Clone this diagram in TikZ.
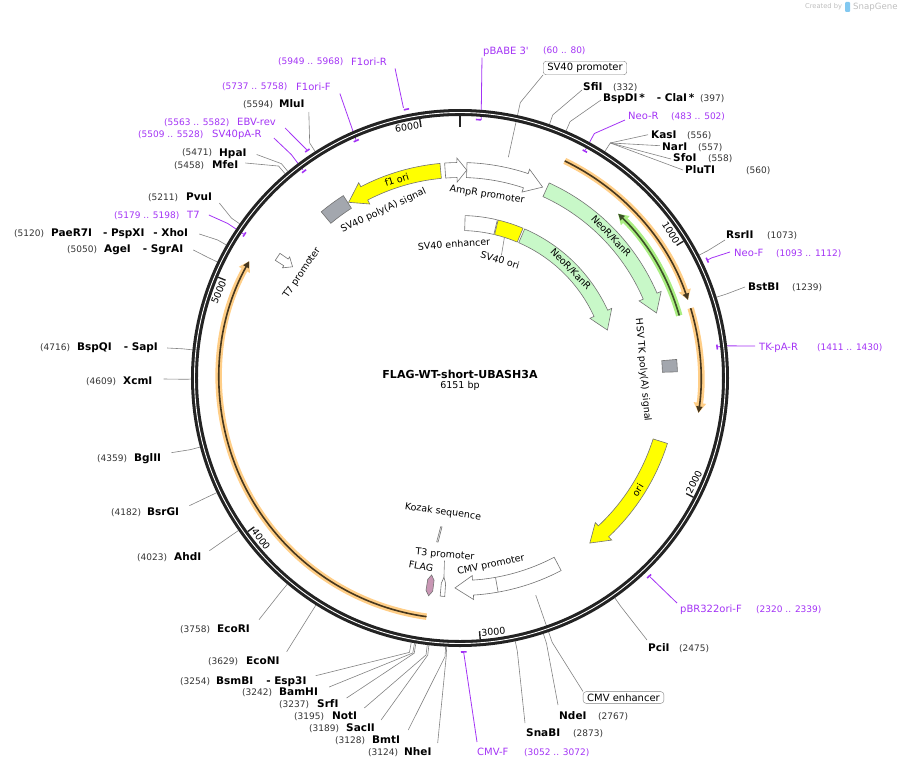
\documentclass[tikz,border=0pt]{standalone}
\usepackage{fontspec}
\setmainfont{DejaVu Sans}
\usetikzlibrary{arrows.meta}

\definecolor{primcol}{RGB}{163,51,245}
\definecolor{neofill}{RGB}{200,248,200}
\definecolor{yelfill}{RGB}{255,255,0}
\definecolor{boxgray}{RGB}{163,167,174}
\definecolor{orfglow}{RGB}{255,206,135}
\definecolor{orfline}{RGB}{70,55,30}
\definecolor{grnglow}{RGB}{170,238,130}
\definecolor{grnline}{RGB}{60,80,40}
\definecolor{flagfill}{RGB}{200,150,180}
\definecolor{leadcol}{RGB}{130,130,130}
\definecolor{ringcol}{RGB}{35,35,35}
\definecolor{credgray}{RGB}{190,190,190}
\definecolor{snapblue}{RGB}{130,200,240}

\tikzset{
  enz/.style={font=\fontsize{10.5}{12}\selectfont\bfseries, inner sep=0pt, text height=7.6pt, text depth=0pt, anchor=west},
  num/.style={font=\fontsize{9}{11}\selectfont, inner sep=0pt, text height=6.6pt, text depth=0pt, anchor=west, text=black!80},
  prim/.style={font=\fontsize{10}{12}\selectfont, inner sep=0pt, text height=7.3pt, text depth=0pt, anchor=west, text=primcol},
  primnum/.style={num, text=primcol},
  leader/.style={draw=leadcol, line width=0.6pt},
  primlead/.style={draw=primcol, line width=0.8pt},
  primmark/.style={draw=primcol, line width=1.6pt},
  featlab/.style={font=\fontsize{9.5}{11}\selectfont, inner sep=1pt},
  ticklab/.style={font=\fontsize{9.5}{11}\selectfont, inner sep=1.5pt},
  boxlab/.style={draw=leadcol, rounded corners=3pt, font=\fontsize{10}{12}\selectfont, inner xsep=4pt, inner ysep=2pt, fill=white},
  feat/.style={draw=black!55, line width=0.6pt},
  neo/.style={feat, fill=neofill},
  yel/.style={feat, fill=yelfill},
  wht/.style={feat, fill=white},
  gbox/.style={feat, fill=boxgray},
  tickline/.style={draw=ringcol, line width=1.4pt}
}

% feature arrow along the map, from position #2 to tip at #3, radius #4
\newcommand{\arcarrow}[4][]{%
  \pgfmathsetmacro\angA{90-(#2)/6151*360}%
  \pgfmathsetmacro\angB{90-(#3)/6151*360}%
  \pgfmathsetmacro\hdlen{min(18/(#4)*180/pi, 0.45*abs(\angA-\angB))}%
  \pgfmathsetmacro\dirsign{ifthenelse(\angA>\angB,1,-1)}%
  \pgfmathsetmacro\angC{\angB+\dirsign*\hdlen}%
  \pgfmathsetmacro\rin{#4-7.5}%
  \pgfmathsetmacro\rout{#4+7.5}%
  \pgfmathsetmacro\rhin{#4-12}%
  \pgfmathsetmacro\rhout{#4+12}%
  \draw[#1] (\angA:\rin) arc[start angle=\angA, end angle=\angC, radius=\rin]
    -- (\angC:\rhin) -- (\angB:#4) -- (\angC:\rhout) -- (\angC:\rout)
    arc[start angle=\angC, end angle=\angA, radius=\rout] -- cycle;
}
% feature box without direction
\newcommand{\arcbox}[4][]{%
  \pgfmathsetmacro\angA{90-(#2)/6151*360}%
  \pgfmathsetmacro\angB{90-(#3)/6151*360}%
  \pgfmathsetmacro\rin{#4-7.5}%
  \pgfmathsetmacro\rout{#4+7.5}%
  \draw[#1] (\angA:\rin) arc[start angle=\angA, end angle=\angB, radius=\rin]
    -- (\angB:\rout) arc[start angle=\angB, end angle=\angA, radius=\rout] -- cycle;
}
% open reading frame
\newcommand{\orf}[5]{%
  \draw[draw=#1, line width=6.5pt, -{Triangle[length=10pt,width=12pt]}] ({pa(#3)}:#5) arc[start angle={pa(#3)}, end angle={pa(#4)}, radius=#5];
  \draw[draw=#2, line width=1.6pt, -{Triangle[length=6.5pt,width=6pt]}] ({pa(#3)}:#5) arc[start angle={pa(#3)}, end angle={pa(#4)}, radius=#5];
}
\newcommand{\primark}[3]{\draw[primmark] ({pa(#1)}:#3) arc[start angle={pa(#1)}, end angle={pa(#2)}, radius=#3];}

\begin{document}
\begin{tikzpicture}[x=1pt, y=1pt, declare function={pa(\p)=90-(\p)/6151*360;}]
\useasboundingbox (-460,378) rectangle (442,-391);

% labels round the map, in pixel positions
\begin{scope}[shift={(-460,378)}]
  \node[num] (mluin) at (243,-104) {(5594)};
  \node[enz] (mlui) at (279,-104) {MluI};
  \node[num] (hpain) at (182,-152.5) {(5471)};
  \node[enz] (hpai) at (219,-152.5) {HpaI};
  \node[num] (mfein) at (174,-165) {(5458)};
  \node[enz] (mfei) at (212,-165) {MfeI};
  \node[num] (pvuin) at (148,-197) {(5211)};
  \node[enz] (pvui) at (186,-197) {PvuI};
  \node[num] (xhoin) at (14,-233) {(5120)};
  \node[enz] (xhoi) at (51,-233) {PaeR7I\hspace{11pt}- PspXI\hspace{9pt}- XhoI};
  \node[num] (agein) at (67,-249) {(5050)};
  \node[enz] (agei) at (104,-249) {AgeI\hspace{12pt}- SgrAI};
  \node[num] (sapin) at (40,-347) {(4716)};
  \node[enz] (sapi) at (77,-347) {BspQI\hspace{12pt}- SapI};
  \node[num] (xcmin) at (86,-381) {(4609)};
  \node[enz] (xcmi) at (123,-381) {XcmI};
  \node[num] (bglin) at (97,-457.7) {(4359)};
  \node[enz] (bgli) at (134,-457.7) {BglII};
  \node[num] (bsrgn) at (111,-511.7) {(4182)};
  \node[enz] (bsrg) at (147,-511.7) {BsrGI};
  \node[num] (ahdn) at (137,-556.7) {(4023)};
  \node[enz] (ahd) at (174,-556.7) {AhdI};
  \node[num] (ecorin) at (180,-628.7) {(3758)};
  \node[enz] (ecori) at (217,-628.7) {EcoRI};
  \node[num] (econin) at (208,-660.7) {(3629)};
  \node[enz] (econi) at (246,-660.7) {EcoNI};
  \node[num] (bsmbn) at (180,-680.7) {(3254)};
  \node[enz] (bsmb) at (216,-680.7) {BsmBI\hspace{13pt}- Esp3I};
  \node[num] (bamn) at (242,-692) {(3242)};
  \node[enz] (bam) at (279,-692) {BamHI};
  \node[num] (srfn) at (279,-704) {(3237)};
  \node[enz] (srf) at (317,-704) {SrfI};
  \node[num] (notn) at (294,-716) {(3195)};
  \node[enz] (noti) at (332,-716) {NotI};
  \node[num] (sacn) at (309,-728) {(3189)};
  \node[enz] (sac) at (346,-728) {SacII};
  \node[num] (bmtn) at (335,-740) {(3128)};
  \node[enz] (bmt) at (372,-740) {BmtI};
  \node[num] (nhen) at (368,-752) {(3124)};
  \node[enz] (nhe) at (404,-752) {NheI};

  \node[enz] (sfi) at (583,-87) {SfiI};
  \node[num] (sfin) at (613,-87) {(332)};
  \node[enz] (cla) at (603,-98) {BspDI\,*\hspace{12pt}- ClaI\,*};
  \node[num] (clan) at (700,-98) {(397)};
  \node[enz] (kas) at (651,-134.7) {KasI};
  \node[num] (kasn) at (687,-134.7) {(556)};
  \node[enz] (nar) at (662,-146.7) {NarI};
  \node[num] (narn) at (698,-146.7) {(557)};
  \node[enz] (sfo) at (673,-158) {SfoI};
  \node[num] (sfon) at (708,-158) {(558)};
  \node[enz] (plu) at (685,-170) {PluTI};
  \node[num] (plun) at (746,-170) {(560)};
  \node[enz] (rsr) at (726,-235) {RsrII};
  \node[num] (rsrn) at (767,-235) {(1073)};
  \node[enz] (bstb) at (748,-287) {BstBI};
  \node[num] (bstbn) at (792,-287) {(1239)};
  \node[enz] (pci) at (648,-648) {PciI};
  \node[num] (pcin) at (679,-648) {(2475)};
  \node[enz] (nde) at (559,-716) {NdeI};
  \node[num] (nden) at (598,-716) {(2767)};
  \node[enz] (sna) at (526,-733) {SnaBI};
  \node[num] (snan) at (573,-733) {(2873)};

  % primers
  \node[primnum] (f1rn) at (278,-61.5) {(5949 .. 5968)};
  \node[prim] (f1r) at (351,-61.5) {F1ori-R};
  \node[primnum] (f1fn) at (222,-86.5) {(5737 .. 5758)};
  \node[prim] (f1f) at (296,-86.5) {F1ori-F};
  \node[primnum] (ebvn) at (164,-122) {(5563 .. 5582)};
  \node[prim] (ebv) at (237,-122) {EBV-rev};
  \node[primnum] (svpan) at (138,-134) {(5509 .. 5528)};
  \node[prim] (svpa) at (212,-134) {SV40pA-R};
  \node[primnum] (t7n) at (114,-215) {(5179 .. 5198)};
  \node[prim] (t7) at (187,-215) {T7};
  \node[prim] (pbabe) at (483,-50.7) {pBABE 3\textquotesingle};
  \node[primnum] (pbaben) at (543,-50.7) {(60 .. 80)};
  \node[prim] (neor) at (628,-116) {Neo-R};
  \node[primnum] (neorn) at (671,-116) {(483 .. 502)};
  \node[prim] (neof) at (734,-253) {Neo-F};
  \node[primnum] (neofn) at (776,-253) {(1093 .. 1112)};
  \node[prim] (tkpa) at (759,-347) {TK-pA-R};
  \node[primnum] (tkpan) at (817,-347) {(1411 .. 1430)};
  \node[prim] (pbr) at (680,-609) {pBR322ori-F};
  \node[primnum] (pbrn) at (756,-609) {(2320 .. 2339)};
  \node[prim] (cmvf) at (477,-752) {CMV-F};
  \node[primnum] (cmvfn) at (524,-752) {(3052 .. 3072)};

  \node[boxlab] (sv40p) at (585,-68) {SV40 promoter};
  \node[boxlab] (cmvenh) at (623.5,-697.5) {CMV enhancer};

  \node[font=\fontsize{6.7}{8}\selectfont, text=credgray, anchor=west, inner sep=0pt] (cred) at (805,-7) {Created by};
  \fill[snapblue, rounded corners=1pt] (845,-2) rectangle (850,-12);
  \node[font=\fontsize{8.6}{10}\selectfont, text=credgray, anchor=west, inner sep=0pt] (snapg) at (853,-7) {SnapGene};
\end{scope}

% leaders of the sites
\draw[leader] ({pa(5594)}:269) -- ({pa(5594)}:279) -- ([shift={(4,-8)}]mlui.east);
\draw[leader] ({pa(5471)}:269) -- ({pa(5471)}:279) -- ([shift={(10,-2)}]hpai.east);
\draw[leader] ({pa(5458)}:269) -- ({pa(5458)}:279) -- ([shift={(7,2)}]mfei.east);
\draw[leader] ({pa(5211)}:269) -- ({pa(5211)}:279) -- ([shift={(7,-6)}]pvui.east);
\draw[leader] ({pa(5120)}:269) -- ({pa(5120)}:279) -- ([shift={(11,-1)}]xhoi.east);
\draw[leader] ({pa(5050)}:269) -- ({pa(5050)}:279) -- ([shift={(10,-1)}]agei.east);
\draw[leader] ({pa(4716)}:269) -- ({pa(4716)}:279) -- ([shift={(9,-1)}]sapi.east);
\draw[leader] ({pa(4609)}:269) -- ({pa(4609)}:279) -- ([shift={(11,2)}]xcmi.east);
\draw[leader] ({pa(4359)}:269) -- ({pa(4359)}:279) -- ([shift={(10,5)}]bgli.east);
\draw[leader] ({pa(4182)}:269) -- ({pa(4182)}:279) -- ([shift={(10,6)}]bsrg.east);
\draw[leader] ({pa(4023)}:269) -- ({pa(4023)}:279) -- ([shift={(8,6)}]ahd.east);
\draw[leader] ({pa(3758)}:269) -- ({pa(3758)}:279) -- ([shift={(9,9)}]ecori.east);
\draw[leader] ({pa(3629)}:269) -- ({pa(3629)}:279) -- ([shift={(7,9)}]econi.east);
\draw[leader] ({pa(3254)}:269) -- ({pa(3254)}:279) -- ([shift={(9,5)}]bsmb.east);
\draw[leader] ({pa(3242)}:269) -- ({pa(3242)}:279) -- ([shift={(11,5)}]bam.east);
\draw[leader] ({pa(3237)}:269) -- ({pa(3237)}:279) -- ([shift={(8,6)}]srf.east);
\draw[leader] ({pa(3195)}:269) -- ({pa(3195)}:279) -- ([shift={(7,8)}]noti.east);
\draw[leader] ({pa(3189)}:269) -- ({pa(3189)}:279) -- ([shift={(6,8)}]sac.east);
\draw[leader] ({pa(3128)}:269) -- ({pa(3128)}:279) -- ([shift={(8,10)}]bmt.east);
\draw[leader] ({pa(3124)}:269) -- ({pa(3124)}:279) -- ([shift={(6,9)}]nhe.east);

\draw[leader] ({pa(332)}:269) -- ({pa(332)}:279) -- ([shift={(-1,-3)}]sfi.west);
\draw[leader] ({pa(397)}:269) -- ({pa(397)}:279) -- ([shift={(-2,-2)}]cla.west);
\draw[leader] ({pa(557)}:269) -- ({pa(557)}:279) coordinate (kasfan);
\draw[leader] (kasfan) -- ([xshift=-3pt]kas.west);
\draw[leader] (kasfan) -- ([shift={(-2,1)}]nar.west);
\draw[leader] (kasfan) -- ([shift={(-2,-1)}]sfo.west);
\draw[leader] (kasfan) -- ([shift={(-2,0)}]plu.west);
\draw[leader] ({pa(1073)}:269) -- ({pa(1073)}:279) -- ([shift={(-1,-5)}]rsr.west);
\draw[leader] ({pa(1239)}:269) -- ({pa(1239)}:279) -- ([shift={(-3,0)}]bstb.west);
\draw[leader] ({pa(2475)}:269) -- ({pa(2475)}:279) -- ([shift={(-1,8)}]pci.west);
\draw[leader] ({pa(2767)}:269) -- ({pa(2767)}:279) -- ([shift={(-1,11)}]nde.west);
\draw[leader] ({pa(2873)}:269) -- ({pa(2873)}:279) -- ([shift={(-1,10)}]sna.west);

\draw[leader] (sv40p.south west) -- ({pa(211)}:282) -- ({pa(211)}:226);
\draw[leader] (cmvenh.north west) -- ({pa(2747)}:280) -- ({pa(2747)}:230);

% leaders of the primers
\draw[primlead] ({pa(80)}:259) -- ([shift={(-1,-7)}]pbabe.west);
\draw[primlead] ({pa(5949)}:276) -- ([shift={(8,-7)}]f1r.east);
\draw[primlead] ({pa(5748)}:260) -- ([shift={(9,-7)}]f1f.east);
\draw[primlead] ({pa(5572)}:275) -- ([shift={(9,-6)}]ebv.east);
\draw[primlead] ({pa(5518)}:261) -- ({pa(5518)}:280) -- ([shift={(12,-4)}]svpa.east);
\draw[primlead] ({pa(5188)}:260) -- ({pa(5188)}:279) -- ([shift={(9,0)}]t7.east);
\draw[primlead] ({pa(492)}:260) -- ({pa(492)}:279) -- ([shift={(-3,-4)}]neor.west);
\draw[primlead] ({pa(1102)}:275) -- ({pa(1102)}:279) -- ([shift={(-4,1)}]neof.west);
\draw[primlead] ({pa(1420)}:260) -- ({pa(1420)}:268) -- ([shift={(-4,1)}]tkpa.west);
\draw[primlead] ({pa(2329)}:275) -- ([shift={(-3,6)}]pbr.west);
\draw[primlead] ({pa(3062)}:275) -- ([shift={(0,10)}]cmvf.west);

% backbone
\draw[ringcol, line width=7pt] (0,0) circle[radius=265.5];
\draw[white, line width=0.9pt] (0,0) circle[radius=265.5];
\draw[ringcol, line width=2.6pt] (90:251) -- (90:262);

\draw[tickline] ({pa(1000)}:254) -- ({pa(1000)}:262);
\draw[tickline] ({pa(2000)}:254) -- ({pa(2000)}:262);
\draw[tickline] ({pa(3000)}:254) -- ({pa(3000)}:262);
\draw[tickline] ({pa(4000)}:254) -- ({pa(4000)}:262);
\draw[tickline] ({pa(5000)}:254) -- ({pa(5000)}:262);
\draw[tickline] ({pa(6000)}:254) -- ({pa(6000)}:262);
\node[ticklab, anchor=north east, rotate={pa(1000)-90}] (n1000) at ({pa(1000)}:261) {1000};
\node[ticklab, anchor=south west, rotate={pa(2000)+90}] (n2000) at ({pa(2000)}:261) {2000};
\node[ticklab, anchor=south west, rotate={pa(3000)+90}] (n3000) at ({pa(3000)}:261) {3000};
\node[ticklab, anchor=south west, rotate={pa(4000)+90}] (n4000) at ({pa(4000)}:261) {4000};
\node[ticklab, anchor=north east, rotate={pa(5000)-90}] (n5000) at ({pa(5000)}:261) {5000};
\node[ticklab, anchor=north east, rotate={pa(6000)-90}] (n6000) at ({pa(6000)}:261) {6000};

% primer marks
\primark{60}{80}{259}
\primark{5949}{5968}{274}
\primark{5737}{5758}{259}
\primark{5563}{5582}{274}
\primark{5509}{5528}{259}
\primark{5179}{5198}{259}
\primark{483}{502}{259}
\primark{1093}{1112}{274}
\primark{1411}{1430}{259}
\primark{2320}{2339}{274}
\primark{3052}{3072}{274}

% features
\arcarrow[neo]{420}{1225}{207}
\arcarrow[neo]{401}{1230}{155}
\arcarrow[yel]{6060}{5598}{208}
\arcbox[gbox]{5470}{5594}{209}
\arcarrow[wht]{-70}{32}{208}
\arcarrow[wht]{32}{400}{208}
\arcbox[wht]{31}{227}{155}
\arcbox[yel]{232}{390}{155}
\arcbox[gbox]{1454}{1510}{210}
\arcarrow[yel]{1837}{2423}{210}
\arcarrow[wht]{2602}{3099}{210}
\draw[feat] ({pa(2903)}:202.5) -- ({pa(2903)}:217.5);

% small features
\draw[wht] (147.5:219) -- (145.3:219) -- (145.3:209) -- (144.6:209) -- (146.4:201) -- (148.2:209) -- (147.5:209) -- cycle;
\draw[wht] (-94.0:219) -- (-95.2:219) -- (-95.2:206) -- (-94.6:200) -- (-94.0:206) -- cycle;
\draw[feat, fill=flagfill] (-98.2:199) -- (-97.3:204) -- (-97.3:215) -- (-98.2:220) -- (-99.1:215) -- (-99.1:204) -- cycle;
\draw[wht] (-96.9:150) -- (-97.4:150) -- (-98.1:165.5) -- (-97.6:165.5) -- cycle;

% open reading frames
\orf{orfglow}{orfline}{440}{1215}{241}
\orf{orfglow}{orfline}{1250}{1680}{241}
\orf{orfglow}{orfline}{3212}{5109}{241}
\orf{grnglow}{grnline}{1266}{750}{228}

% feature labels
\node[featlab, rotate=17.7] (f1lab) at (107.7:208) {f1 ori};
\node[featlab, rotate=-46.8] (neolab) at (43.2:207) {NeoR/KanR};
\node[featlab, rotate=-45.5] (neolabb) at (44.5:155) {NeoR/KanR};
\node[featlab, rotate=57.8] (orilab) at (-32.2:210) {ori};
\node[featlab, rotate=25] (pa1lab) at (-76.5,167.5) {SV40 poly(A) signal};
\node[featlab, rotate=-9] (amplab) at (27,183) {AmpR promoter};
\node[featlab, rotate=4] (enhlab) at (-6,134) {SV40 enhancer};
\node[featlab, rotate=-17] (orisvlab) at (40,118) {SV40 ori};
\node[featlab, rotate=-85] (tklab) at (183,8) {HSV TK poly(A) signal};
\node[featlab, rotate=12] (cmvlab) at (31,-187) {CMV promoter};
\node[featlab, rotate=-5] (t3lab) at (-15,-177) {T3 promoter};
\node[featlab, rotate=-10] (flaglab) at (-39,-188) {FLAG};
\node[featlab, rotate=-8] (kozlab) at (-17,-134) {Kozak sequence};
\node[featlab, rotate=56] (t7lab) at (-158,105) {T7 promoter};
\draw[leader] ({pa(300)}:147) -- (orisvlab.north);
\draw[leader] (t3lab.south) -- ({pa(3154)}:201);

\node[font=\fontsize{11}{13}\selectfont\bfseries, inner sep=0pt] (title) at (0,3.5) {FLAG-WT-short-UBASH3A};
\node[font=\fontsize{9.5}{11}\selectfont, inner sep=0pt] (bp) at (0,-8) {6151 bp};

\end{tikzpicture}
\end{document}
